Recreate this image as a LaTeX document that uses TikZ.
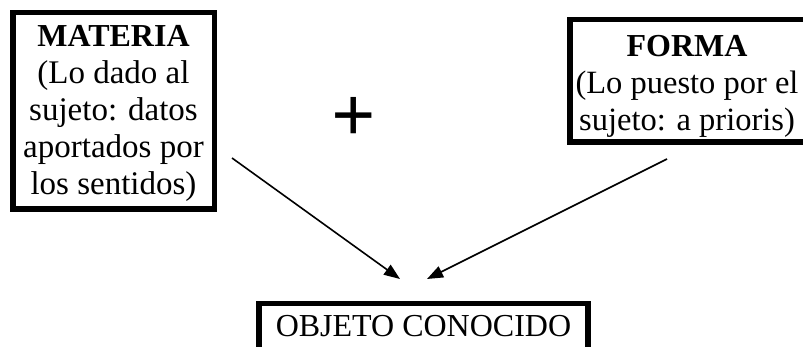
\documentclass[tikz,border=0pt]{standalone}
\usepackage{fontspec}
\setmainfont{Liberation Serif}
\usepackage{tikz}
\usetikzlibrary{positioning, arrows.meta}
\tikzset{
	borde/.style={draw=black, line width=5.5pt},
	caja/.style={borde, inner sep=0pt, align=center,
		font=\fontsize{33}{37}\selectfont},
	flecha/.style={line width=1.6pt, -{Triangle[length=16pt, width=12pt]}},
	signo/.style={inner sep=0pt, font=\bfseries\fontsize{78}{80}\selectfont}
}

\begin{document}
\begin{tikzpicture}[x=1pt, y=-1pt]
\useasboundingbox (0,0) rectangle (803,347);
\node[caja, minimum width=201.5pt, minimum height=196.5pt] (materia) at (113.5,111)
	{\rule{0pt}{27pt}\textbf{\fontsize{32}{37}\selectfont MATERIA}\\(Lo dado al\\sujeto: datos\\aportados por\\los sentidos)};
\node[caja, draw=none, outer sep=0pt, minimum width=234.5pt, minimum height=122.5pt, font=\fontsize{32.5}{37}\selectfont] (forma) at (687,81)
	{\rule{0pt}{31pt}\textbf{\fontsize{32}{37}\selectfont FORMA}\\(Lo puesto por el\\sujeto: a prioris)};
% right side of this box lies past the edge
\draw[borde] ([xshift=30pt]forma.north east) -- (forma.north west) -- (forma.south west) -- ([xshift=30pt]forma.south east);
\node[caja, anchor=north, minimum width=329pt, text height=22pt, text depth=20pt,
	inner ysep=11pt, font=\fontsize{32}{37}\selectfont] (objeto) at (423.5,301) {OBJETO CONOCIDO};
\node[signo] (mas) at (354,119) {+};
	\coordinate (m1) at (232,158);
	\coordinate (f1) at (667,159);
	\coordinate (o1) at (400,279);
	\coordinate (o2) at (427,279);
\draw[flecha] (m1) -- (o1);
\draw[flecha] (f1) -- (o2);
\end{tikzpicture}
\end{document}
